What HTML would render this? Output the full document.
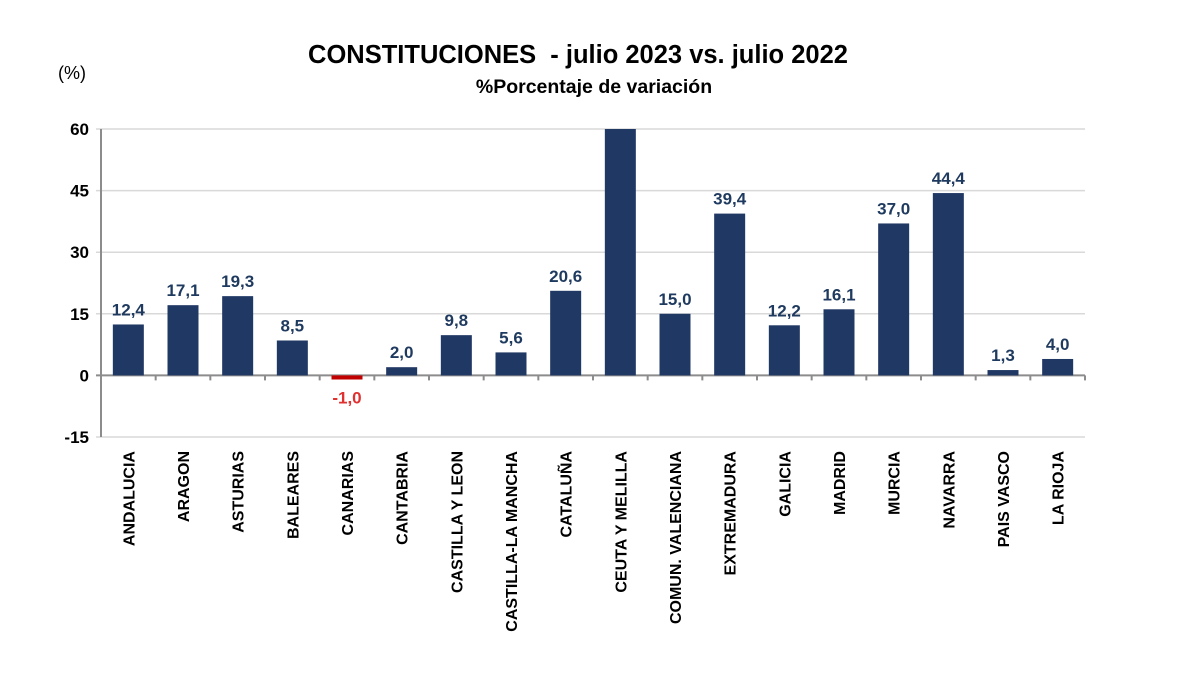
<!DOCTYPE html>
<html><head><meta charset="utf-8"><style>
body{margin:0;background:#fff;}
svg text{font-family:"Liberation Sans",Arial,sans-serif;}
</style></head><body>
<svg width="1200" height="669" viewBox="0 0 1200 669" id="chart">
<text x="578" y="63" text-anchor="middle" font-size="25.5" font-weight="bold" fill="#000">CONSTITUCIONES &#160;- julio 2023 vs. julio 2022</text>
<text x="594" y="93" text-anchor="middle" font-size="19.5" font-weight="bold" fill="#000">%Porcentaje de variación</text>
<text x="72" y="79" text-anchor="middle" font-size="18" fill="#000">(%)</text>
<g id="grid"></g><g id="bars"></g><g id="labels"></g>
</svg>
<script>
const categories=["ANDALUCIA","ARAGON","ASTURIAS","BALEARES","CANARIAS","CANTABRIA","CASTILLA Y LEON","CASTILLA-LA MANCHA","CATALUÑA","CEUTA Y MELILLA","COMUN. VALENCIANA","EXTREMADURA","GALICIA","MADRID","MURCIA","NAVARRA","PAIS VASCO","LA RIOJA"];
const values=[12.4,17.1,19.3,8.5,-1.0,2.0,9.8,5.6,20.6,75,15.0,39.4,12.2,16.1,37.0,44.4,1.3,4.0];
const ticks=[-15,0,15,30,45,60];
const ns="http://www.w3.org/2000/svg";
const x0=101,x1=1085,yTop=129,yBot=437,vMin=-15,vMax=60;
const band=(x1-x0)/categories.length;
const y=v=>yBot-(v-vMin)/(vMax-vMin)*(yBot-yTop);
const grid=document.getElementById('grid'),bars=document.getElementById('bars'),labels=document.getElementById('labels');
function mk(tag,a,p){const e=document.createElementNS(ns,tag);for(const k in a)e.setAttribute(k,a[k]);p.appendChild(e);return e;}
ticks.forEach(t=>{
 const l=mk('line',{x1:x0-5,x2:x1,y1:y(t),y2:y(t),stroke:t===0?'#8c8c8c':'#d9d9d9','stroke-width':t===0?2:1.5},grid);
 
 
 const tx=mk('text',{x:x0-12,y:y(t)+6,'text-anchor':'end','font-size':17,'font-weight':'bold',fill:'#000'},labels);
 tx.textContent=t;
 
 
});
const ax=mk('line',{x1:x0,x2:x0,y1:yTop,y2:yBot,stroke:'#8c8c8c','stroke-width':2},grid);


for(let i=0;i<=categories.length;i++){
 const t=mk('line',{x1:x0+i*band,x2:x0+i*band,y1:y(0),y2:y(0)+5,stroke:'#8c8c8c','stroke-width':2},grid);
 
 
}
categories.forEach((c,i)=>{
 const v=values[i],cx=x0+(i+0.5)*band,w=31;
 const vc=Math.min(v,vMax);
 const neg=v<0;
 const r=mk('rect',{x:cx-w/2,y:Math.min(y(vc),y(0)),width:w,height:Math.abs(y(vc)-y(0)),fill:neg?'#c00000':'#203864'},bars);
 
 
 if(v<=vMax){
  const t=mk('text',{x:cx,y:neg?y(vc)+24:y(vc)-9,'text-anchor':'middle','font-size':17,'font-weight':'bold',fill:neg?'#e03030':'#1f3a5f'},labels);
  t.textContent=v.toFixed(1).replace('.',',');
  
  
 }
 const cl=mk('text',{x:0,y:0,transform:`translate(${cx+6},451) rotate(-90)`,'text-anchor':'end','font-size':16,'font-weight':'bold',fill:'#000'},labels);
 cl.textContent=c;
 
 
});
</script>
</body></html>
